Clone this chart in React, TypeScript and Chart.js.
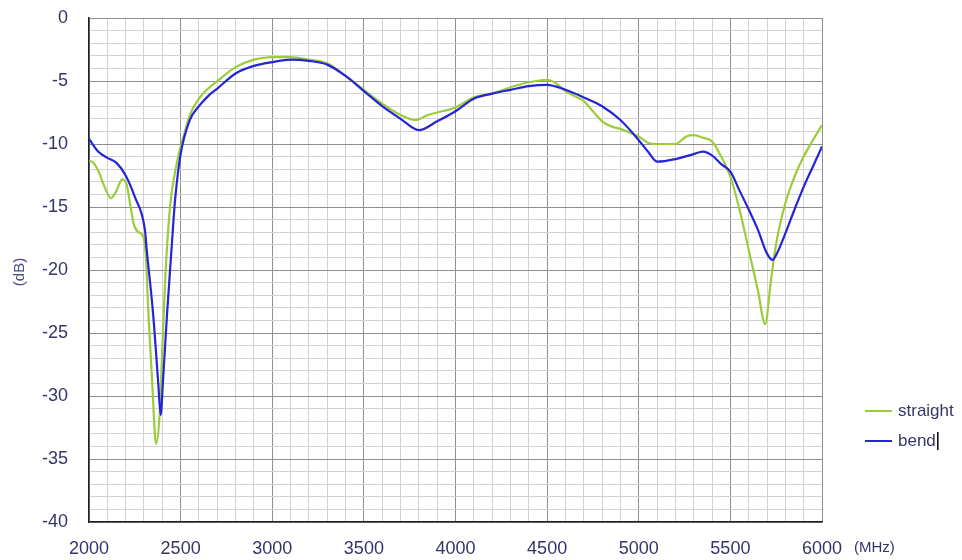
import { useEffect, useRef } from "react";
import Chart from "chart.js/auto";

const straightFreq = [2000, 2025, 2050, 2085, 2120, 2150, 2180, 2205, 2225, 2245, 2270, 2295, 2310, 2325, 2345, 2366, 2387, 2400, 2415, 2442, 2470, 2500, 2520, 2550, 2600, 2650, 2700, 2800, 2900, 3000, 3100, 3200, 3300, 3400, 3500, 3600, 3700, 3780, 3850, 3900, 4000, 4100, 4200, 4300, 4400, 4500, 4550, 4600, 4650, 4700, 4750, 4800, 4850, 4900, 4950, 5000, 5050, 5100, 5200, 5260, 5300, 5350, 5400, 5450, 5500, 5550, 5600, 5650, 5690, 5720, 5750, 5800, 5850, 5900, 5950, 6000];
const straightDb = [-11.3, -11.5, -12.1, -13.4, -14.3, -13.7, -12.8, -13.2, -14.8, -16.4, -17.0, -17.3, -18.8, -23.7, -29.0, -33.8, -31.1, -26.3, -21.0, -15.0, -12.2, -10.2, -9.2, -7.7, -6.4, -5.6, -5.0, -3.9, -3.3, -3.1, -3.1, -3.3, -3.6, -4.6, -5.7, -6.8, -7.7, -8.1, -7.7, -7.5, -7.1, -6.3, -6.0, -5.5, -5.1, -4.9, -5.2, -5.8, -6.2, -6.6, -7.4, -8.2, -8.6, -8.8, -9.1, -9.4, -9.9, -10.0, -10.0, -9.4, -9.3, -9.5, -9.8, -11.0, -12.6, -15.2, -18.4, -21.6, -24.3, -21.0, -17.9, -14.7, -12.6, -11.0, -9.7, -8.5];

const bendFreq = [2000, 2050, 2100, 2150, 2200, 2250, 2305, 2315, 2350, 2378, 2391, 2405, 2425, 2450, 2470, 2500, 2550, 2600, 2650, 2700, 2800, 2900, 3000, 3100, 3200, 3300, 3400, 3500, 3600, 3700, 3800, 3900, 4000, 4100, 4200, 4300, 4400, 4500, 4600, 4700, 4800, 4900, 5000, 5050, 5100, 5200, 5300, 5350, 5400, 5450, 5500, 5550, 5600, 5650, 5700, 5730, 5750, 5800, 5850, 5900, 5950, 6000];
const bendDb = [-9.6, -10.6, -11.1, -11.5, -12.5, -14.2, -16.8, -18.4, -23.5, -29.0, -31.5, -28.5, -23.7, -18.4, -14.4, -10.8, -8.1, -7.0, -6.2, -5.6, -4.4, -3.8, -3.5, -3.3, -3.4, -3.7, -4.6, -5.8, -7.0, -8.0, -8.9, -8.2, -7.4, -6.4, -6.0, -5.7, -5.4, -5.3, -5.7, -6.3, -7.0, -8.1, -9.7, -10.6, -11.4, -11.2, -10.8, -10.6, -10.9, -11.6, -12.2, -13.7, -15.2, -16.8, -18.7, -19.2, -18.8, -17.1, -15.2, -13.4, -11.8, -10.2];

const seriesLabels = ["straight", "bend"];
const seriesColors = ["#9ccc3c", "#2525d6"];
const xUnit = "(MHz)";
const yTitle = "(dB)";

const FONT = "'Liberation Sans', Arial, sans-serif";
const TEXT = "#35356a";

const overlay = {
  id: "overlay",
  afterDraw(chart: any) {
    const ctx = chart.ctx as CanvasRenderingContext2D;
    const area = chart.chartArea;
    ctx.save();
    ctx.fillStyle = "#4a4a8c";
    ctx.font = `15px ${FONT}`;
    ctx.textAlign = "center";
    ctx.textBaseline = "middle";
    ctx.translate(20, 272);
    ctx.rotate(-Math.PI / 2);
    ctx.fillText(yTitle, 0, 0);
    ctx.restore();

    ctx.save();
    ctx.fillStyle = TEXT;
    ctx.font = `15px ${FONT}`;
    ctx.textAlign = "left";
    ctx.textBaseline = "middle";
    ctx.fillText(xUnit, area.right + 32, 548);

    const items = [seriesLabels[0], seriesLabels[1]];
    items.forEach((label, i) => {
      const y = 411 + i * 30;
      ctx.strokeStyle = seriesColors[i];
      ctx.lineWidth = 2;
      ctx.beginPath();
      ctx.moveTo(865, y);
      ctx.lineTo(892, y);
      ctx.stroke();
      ctx.fillStyle = TEXT;
      ctx.font = `17px ${FONT}`;
      ctx.textAlign = "left";
      ctx.textBaseline = "middle";
      ctx.fillText(label, 898, y);
      if (i === 1) {
        const w = ctx.measureText(label).width;
        ctx.strokeStyle = "#000";
        ctx.lineWidth = 1.5;
        ctx.beginPath();
        ctx.moveTo(898 + w + 2, y - 9);
        ctx.lineTo(898 + w + 2, y + 9);
        ctx.stroke();
      }
    });
    ctx.restore();
  },
};

export default function App() {
  const ref = useRef<HTMLCanvasElement>(null);
  useEffect(() => {
    const straight = straightFreq.map((x, i) => ({ x, y: straightDb[i] }));
    const bend = bendFreq.map((x, i) => ({ x, y: bendDb[i] }));
    const chart = new Chart(ref.current!, {
      type: "line",
      data: {
        datasets: [
          {
            label: seriesLabels[0],
            data: straight,
            borderColor: seriesColors[0],
            borderWidth: 2.2,
            pointRadius: 0,
            cubicInterpolationMode: "monotone",
            order: 1,
          },
          {
            label: seriesLabels[1],
            data: bend,
            borderColor: seriesColors[1],
            borderWidth: 2.2,
            pointRadius: 0,
            cubicInterpolationMode: "monotone",
            order: 0,
          },
        ],
      },
      options: {
        animation: false,
        responsive: false,
        layout: { padding: { top: 18, right: 140, left: 0, bottom: 0 } },
        plugins: { legend: { display: false }, tooltip: { enabled: false } },
        scales: {
          x: {
            type: "linear",
            min: 2000,
            max: 6000,
            afterFit: (s: any) => {
              s.height = 38;
              s.paddingLeft = 0;
              s.paddingRight = 0;
            },
            afterBuildTicks: (s: any) => {
              const t = [];
              for (let v = 2000; v <= 6000; v += 100) t.push({ value: v });
              s.ticks = t;
            },
            ticks: {
              autoSkip: false,
              maxRotation: 0,
              padding: 16,
              color: TEXT,
              font: { family: FONT, size: 18 },
              callback: (v: any) => (Number(v) % 500 === 0 ? String(v) : ""),
            },
            grid: {
              drawTicks: false,
              color: (c: any) => (c.tick && c.tick.value % 500 === 0 ? "#8e8e8e" : "#d2d2d2"),
              lineWidth: 1,
            },
            border: { color: "#222", width: 1.5 },
          },
          y: {
            type: "linear",
            min: -40,
            max: 0,
            afterFit: (s: any) => {
              s.width = 89;
              s.paddingTop = 0;
              s.paddingBottom = 0;
            },
            afterBuildTicks: (s: any) => {
              const t = [];
              for (let v = -40; v <= 0; v += 1) t.push({ value: v });
              s.ticks = t;
            },
            ticks: {
              autoSkip: false,
              padding: 21,
              color: TEXT,
              font: { family: FONT, size: 18 },
              callback: (v: any) => (Number(v) % 5 === 0 ? String(v) : ""),
            },
            grid: {
              drawTicks: false,
              color: (c: any) => (c.tick && c.tick.value % 5 === 0 ? "#8e8e8e" : "#d2d2d2"),
              lineWidth: 1,
            },
            border: { color: "#222", width: 1.5 },
          },
        },
      },
      plugins: [overlay],
    });
    return () => chart.destroy();
  }, []);
  return (
    <div style={{ position: "absolute", left: 0, top: 0, width: 962, height: 560, background: "#fff" }}>
      <canvas ref={ref} width={962} height={560} style={{ display: "block" }} />
    </div>
  );
}
